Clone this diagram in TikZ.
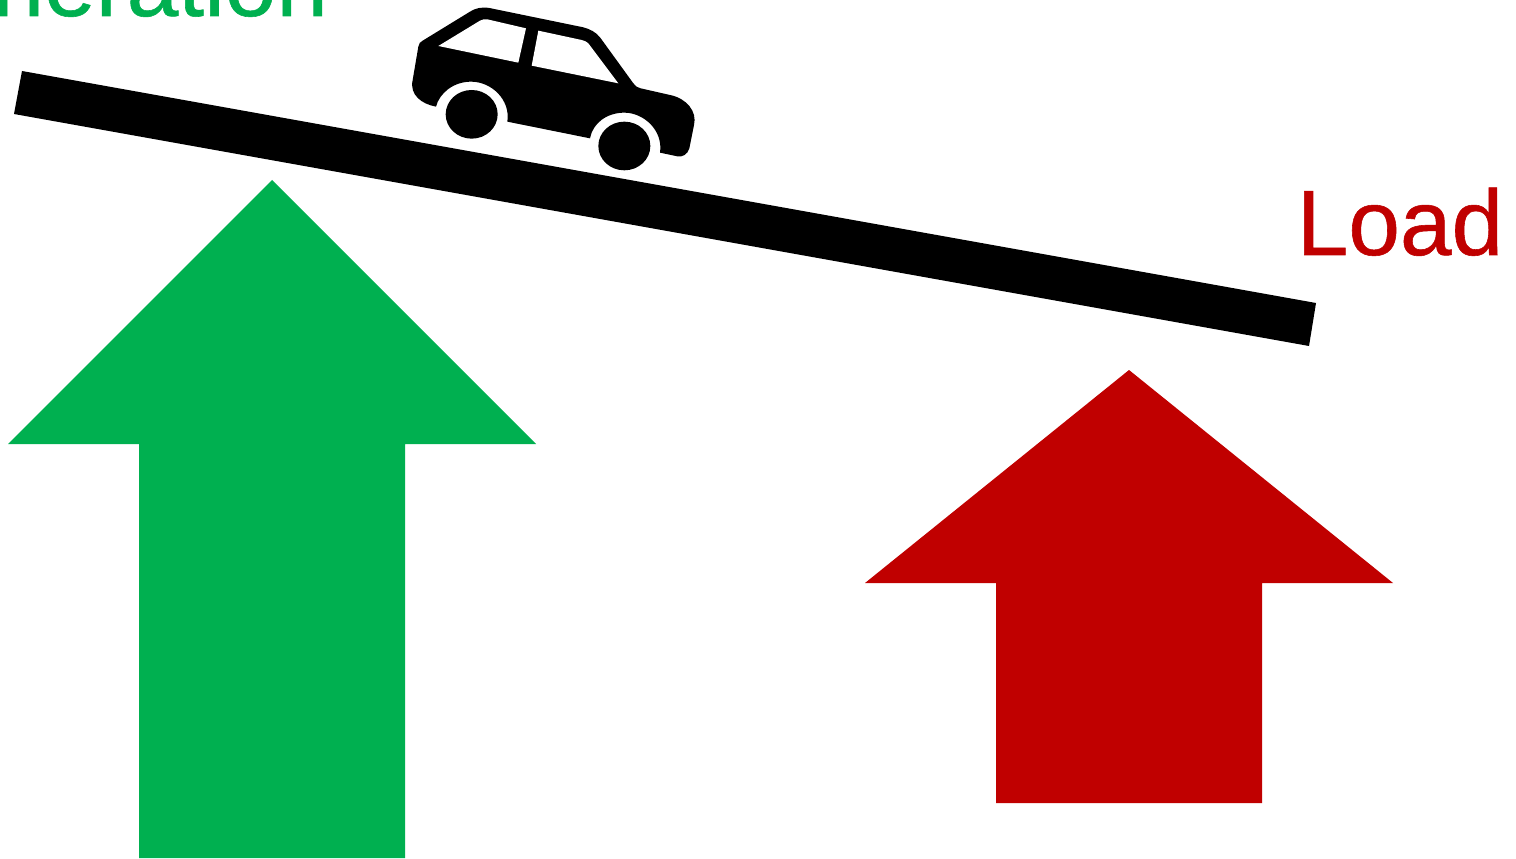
\documentclass[tikz,border=0pt]{standalone}
\usepackage{fontspec}
\setmainfont[FakeBold=0.6]{Liberation Sans}
\definecolor{gengreen}{HTML}{00B050}
\definecolor{loadred}{HTML}{C00000}
\tikzset{
    bigarrow/.style={fill=#1,draw=none},
    biglabel/.style={anchor=base west,inner sep=0pt,text=#1,font=\fontsize{26.4}{32}\selectfont},
    carpart/.style={fill=black,draw=none},
    carwindow/.style={fill=white,draw=none}
}

\begin{document}
\begin{tikzpicture}[x=0.01cm,y=-0.01cm]
    \useasboundingbox (0,0) rectangle (1516,858);
    \fill[white] (0,0) rectangle (1516,858);
    \fill[black] (22,71) -- (1316,303) -- (1309,346) -- (14,114) -- cycle;
    \draw[bigarrow=gengreen] (272,180) -- (536,444) -- (405,444) -- (405,858)
        -- (139,858) -- (139,444) -- (8,444) -- cycle;
    \draw[bigarrow=loadred] (1129,370) -- (1393,583) -- (1262,583) -- (1262,803)
        -- (996,803) -- (996,583) -- (865,583) -- cycle;
    \node[biglabel=gengreen] (generation) at (-132,16) {Generation};
    \node[biglabel=loadred] (load) at (1296,255) {Load};
    \begin{scope}[shift={(400,0)},scale=1/3]
        \draw[carpart] (108,320) .. controls (65,312) and (28,285) .. (38,240)
            -- (55,140) .. controls (57,130) and (60,126) .. (68,122)
            -- (210,35) .. controls (225,25) and (245,20) .. (268,24)
            -- (550,82) .. controls (570,87) and (588,97) .. (600,112)
            -- (700,250) .. controls (706,259) and (713,263) .. (722,265)
            -- (810,285) .. controls (860,295) and (892,335) .. (882,375)
            -- (868,445) .. controls (863,463) and (848,472) .. (832,469)
            -- (780,458) .. controls (790,390) and (730,338) .. (673,338)
            .. controls (620,338) and (578,370) .. (570,415)
            -- (322,365) .. controls (332,300) and (275,245) .. (213,245)
            .. controls (160,245) and (118,280) .. (108,320) -- cycle;
        \draw[carwindow] (115,138) -- (240,62) .. controls (247,58) and (254,57) .. (262,58)
            -- (378,85) -- (355,188) -- cycle;
        \draw[carwindow] (415,92) -- (545,120) .. controls (553,122) and (560,125) .. (565,130)
            -- (655,250) -- (395,197) -- cycle;
        \fill[carpart] (215,343) ellipse [x radius=78,y radius=73];
        \fill[carpart] (673,438) ellipse [x radius=78,y radius=73];
    \end{scope}
\end{tikzpicture}
\end{document}
